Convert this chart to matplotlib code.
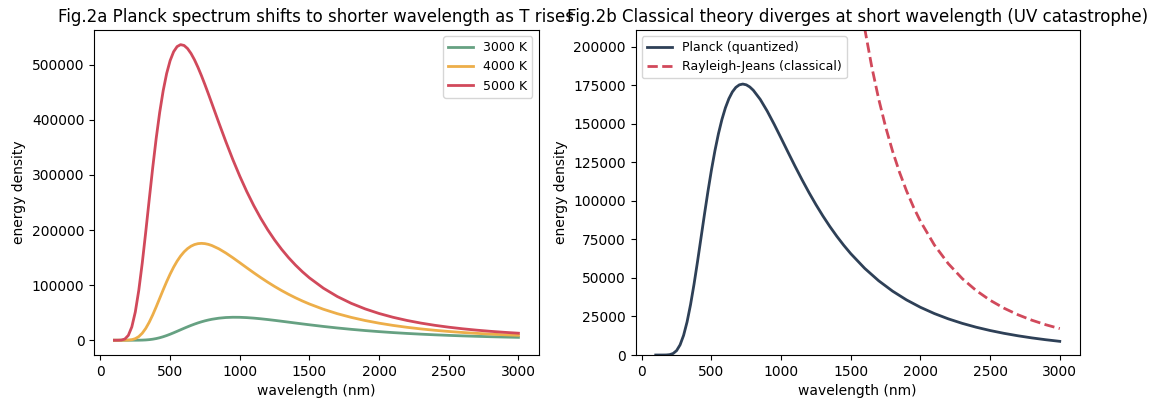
import matplotlib
matplotlib.use("Agg")
from matplotlib import pyplot as plt

# wavelength samples (nm)
wavelength = [100, 125, 150, 175, 200, 225, 250, 275, 300, 325, 350, 375, 400, 425, 450,
              475, 500, 525, 550, 575, 600, 625, 650, 675, 700, 725, 750, 775, 800,
              850, 900, 950, 1000, 1050, 1100, 1150, 1200, 1250, 1300, 1350, 1400, 1450, 1500,
              1600, 1700, 1800, 1900, 2000, 2100, 2200, 2300, 2400, 2500, 2600, 2700, 2800, 2900, 3000]

# energy density
u_3000 = [0, 0, 0, 0, 1, 5, 24, 85, 234, 537, 1064, 1879, 3026, 4522, 6361,
          8507, 10908, 13496, 16201, 18953, 21690, 24351, 26888, 29269, 31460, 33442, 35203, 36737, 38050,
          40022, 41204, 41688, 41594, 41041, 40125, 38941, 37561, 36053, 34466, 32840, 31207, 29593, 28016,
          25012, 22259, 19778, 17562, 15600, 13869, 12347, 11008, 9833, 8799, 7890, 7089, 6382, 5759, 5206]
u_4000 = [0, 0, 3, 36, 241, 987, 2884, 6623, 12750, 21485, 32716, 45967, 60628, 76000, 91400,
          106250, 120084, 132574, 143501, 152754, 160342, 166275, 170674, 173631, 175271, 175788, 175281, 173914, 171799,
          165860, 158280, 149722, 140673, 131504, 122468, 113735, 105400, 97546, 90187, 83344, 76997, 71134, 65738,
          56214, 48187, 41436, 35745, 30953, 26895, 23460, 20535, 18036, 15898, 14059, 12474, 11101, 9908, 8868]
u_5000 = [0, 17, 306, 2198, 8802, 24166, 51270, 90617, 140275, 196660, 255545, 313160, 366469, 413390, 452690,
          484030, 507432, 523508, 532871, 536392, 534900, 529306, 520340, 508768, 495080, 479908, 463660, 446696, 429300,
          394374, 360293, 327867, 297686, 269836, 244452, 221411, 200620, 181869, 165030, 149885, 136313, 124104, 113156,
          94459, 79297, 66946, 56841, 48520, 41628, 35895, 31099, 27063, 23653, 20754, 18282, 16165, 14340, 12764]

# Rayleigh-Jeans at 4000 K (runs off the top of the axes below ~1600 nm)
rj_wavelength = [1500, 1550, 1600, 1650, 1700, 1750, 1800, 1850, 1900, 1950, 2000,
                 2100, 2200, 2300, 2400, 2500, 2600, 2700, 2800, 2900, 3000]
rj_4000 = [274173, 240471, 211792, 187264, 166186, 147991, 132221, 118495, 106506, 95996, 86750,
           71370, 59251, 49600, 41836, 35533, 30374, 26118, 22582, 19625, 17136]

fig, (ax1, ax2) = plt.subplots(1, 2, figsize=(11.63, 4.09), dpi=100)
fig.subplots_adjust(left=0.081, right=0.9286, top=0.927, bottom=0.132, wspace=0.218)

ax1.plot(wavelength, u_3000, color="#66a182", lw=2, label="3000 K")
ax1.plot(wavelength, u_4000, color="#edae49", lw=2, label="4000 K")
ax1.plot(wavelength, u_5000, color="#d1495b", lw=2, label="5000 K")
ax1.set_title("Fig.2a Planck spectrum shifts to shorter wavelength as T rises")
ax1.set_xlabel("wavelength (nm)")
ax1.set_ylabel("energy density")
ax1.legend(fontsize=9)

ax2.plot(wavelength, u_4000, color="#2e4057", lw=2, label="Planck (quantized)")
ax2.plot(rj_wavelength, rj_4000, color="#d1495b", lw=2, ls="--", label="Rayleigh-Jeans (classical)")
ax2.set_ylim(0, max(u_4000) * 1.2)
ax2.set_title("Fig.2b Classical theory diverges at short wavelength (UV catastrophe)")
ax2.set_xlabel("wavelength (nm)")
ax2.set_ylabel("energy density")
ax2.legend(fontsize=9, loc="upper left")

plt.savefig("out.png")
